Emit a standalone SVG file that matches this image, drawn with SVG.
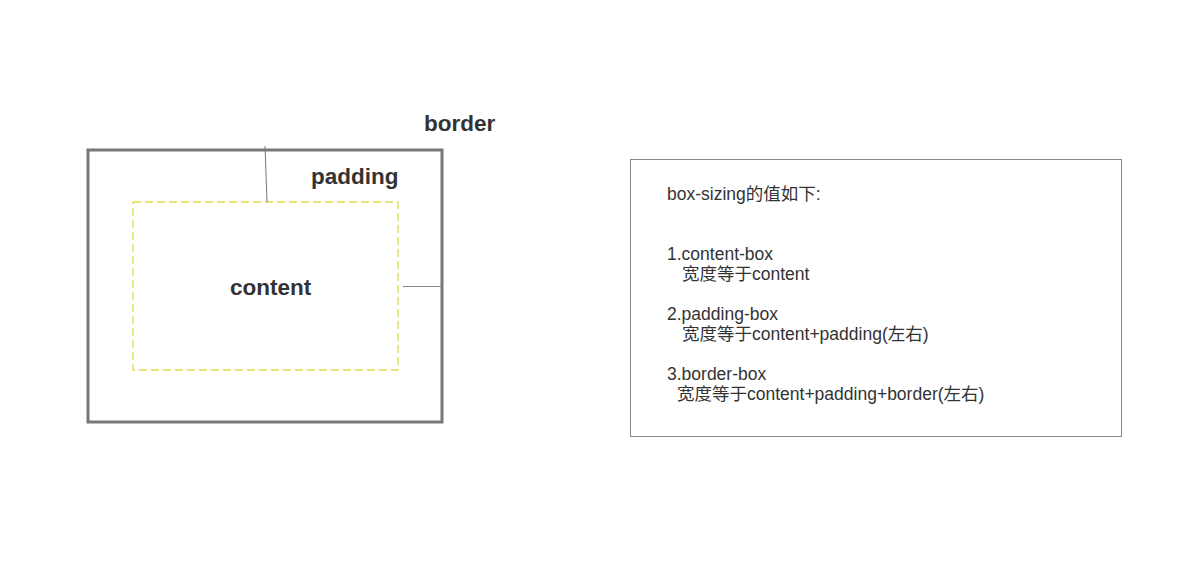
<svg xmlns="http://www.w3.org/2000/svg" width="1184" height="567" viewBox="0 0 1184 567">
<style>
.lbl{font-family:"Liberation Sans","Noto Sans CJK SC",sans-serif;font-weight:bold;font-size:22.5px;fill:#333}
.txt{font-family:"Liberation Sans","Noto Sans CJK SC",sans-serif;font-size:17.5px;fill:#333}
</style>
<rect width="1184" height="567" fill="#fff"/>
<g id="border-box">
<rect x="88" y="150" width="354" height="272" fill="none" stroke="#777" stroke-width="3"/>
<text class="lbl" x="424" y="131">border</text>
</g>
<g id="padding-label">
<text class="lbl" x="311" y="184">padding</text>
</g>
<g id="content-box">
<rect x="133" y="202" width="265" height="168" fill="none" stroke="#dede4a" stroke-width="1.3" stroke-dasharray="8,4"/>
<text class="lbl" x="230" y="295">content</text>
</g>
<g id="connectors">
<line x1="265" y1="146" x2="267" y2="202" stroke="#777" stroke-width="1"/>
<line x1="403" y1="286.5" x2="442" y2="286.5" stroke="#888" stroke-width="1"/>
</g>
<g id="info">
<rect x="630.5" y="159.5" width="491" height="277" fill="#fff" stroke="#888" stroke-width="1"/>
<text class="txt" x="667" y="200">box-sizing的值如下:</text>
<text class="txt" x="667" y="260">1.content-box</text>
<text class="txt" x="682" y="280">宽度等于content</text>
<text class="txt" x="667" y="320">2.padding-box</text>
<text class="txt" x="682" y="340">宽度等于content+padding(左右)</text>
<text class="txt" x="667" y="380">3.border-box</text>
<text class="txt" x="677" y="400">宽度等于content+padding+border(左右)</text>
</g>
</svg>
